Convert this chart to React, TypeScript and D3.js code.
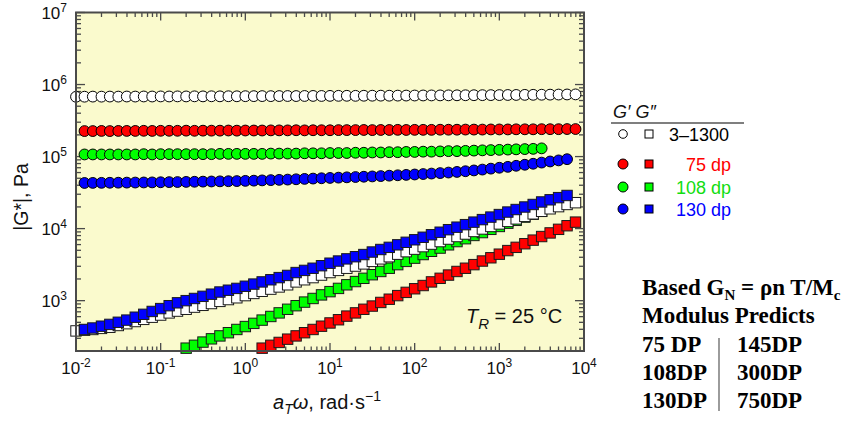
import * as d3 from "d3";

// angular frequency a_T·ω (rad/s), 10 points per decade
const omega = [
  0.01, 0.0126, 0.0158, 0.02, 0.0251, 0.0316, 0.0398, 0.0501, 0.0631, 0.0794,
  0.1, 0.126, 0.158, 0.2, 0.251, 0.316, 0.398, 0.501, 0.631, 0.794,
  1, 1.26, 1.58, 2, 2.51, 3.16, 3.98, 5.01, 6.31, 7.94,
  10, 12.6, 15.8, 20, 25.1, 31.6, 39.8, 50.1, 63.1, 79.4,
  100, 126, 158, 200, 251, 316, 398, 501, 631, 794,
  1000, 1260, 1580, 2000, 2510, 3160, 3980, 5010, 6310, 7940,
];

// G' (storage), Pa
const gp3_1300 = [
  676e3, 678e3, 680e3, 679e3, 681e3, 680e3, 682e3, 681e3, 683e3, 682e3,
  684e3, 683e3, 685e3, 684e3, 686e3, 685e3, 687e3, 686e3, 688e3, 687e3,
  689e3, 690e3, 691e3, 690e3, 692e3, 693e3, 692e3, 694e3, 695e3, 694e3,
  696e3, 697e3, 698e3, 697e3, 699e3, 700e3, 701e3, 700e3, 702e3, 703e3,
  704e3, 705e3, 706e3, 707e3, 708e3, 709e3, 710e3, 711e3, 712e3, 713e3,
  714e3, 716e3, 717e3, 719e3, 720e3, 722e3, 724e3, 726e3, 728e3, 730e3,
];
const gp75 = [
  226e3, 226e3, 227e3, 226e3, 227e3, 227e3, 227e3, 228e3, 227e3,
  228e3, 228e3, 228e3, 229e3, 228e3, 229e3, 229e3, 229e3, 230e3, 229e3,
  230e3, 230e3, 230e3, 231e3, 231e3, 231e3, 232e3, 231e3, 232e3, 232e3,
  232e3, 233e3, 233e3, 233e3, 234e3, 233e3, 234e3, 234e3, 235e3, 234e3,
  235e3, 235e3, 235e3, 236e3, 236e3, 236e3, 237e3, 237e3, 237e3, 238e3,
  238e3, 238e3, 239e3, 239e3, 239e3, 240e3, 240e3, 240e3, 241e3, 241e3,
];
const gp108 = [
  107e3, 107e3, 107e3, 107e3, 107e3, 107e3, 107e3, 108e3, 107e3,
  108e3, 108e3, 108e3, 108e3, 108e3, 108e3, 108e3, 109e3, 109e3, 109e3,
  109e3, 109e3, 109e3, 110e3, 110e3, 110e3, 110e3, 111e3, 111e3, 111e3,
  112e3, 112e3, 112e3, 113e3, 113e3, 114e3, 114e3, 115e3, 115e3, 116e3,
  116e3, 117e3, 117e3, 118e3, 119e3, 119e3, 120e3, 121e3, 122e3, 123e3,
  124e3, 125e3, 126e3, 127e3, 128e3, 130e3,
];
const gp130 = [
  43.0e3, 43.1e3, 43.2e3, 43.3e3, 43.4e3, 43.5e3, 43.6e3, 43.7e3, 43.8e3,
  44.0e3, 44.2e3, 44.3e3, 44.5e3, 44.7e3, 44.9e3, 45.1e3, 45.3e3, 45.5e3, 45.7e3,
  46.0e3, 46.3e3, 46.7e3, 47.1e3, 47.5e3, 47.9e3, 48.4e3, 49.0e3, 49.5e3, 50.0e3,
  50.5e3, 51.0e3, 51.5e3, 52.0e3, 52.5e3, 53.0e3, 53.6e3, 54.3e3, 55.0e3, 55.7e3,
  56.4e3, 57.2e3, 58.1e3, 59.0e3, 60.0e3, 61.2e3, 62.6e3, 64.2e3, 66.0e3, 68.0e3,
  70.0e3, 72.0e3, 74.5e3, 77.0e3, 79.5e3, 82.5e3, 85.5e3, 88.5e3, 92.0e3,
];

// G'' (loss), Pa
const gpp3_1300 = [
  380, 389, 398, 412, 427, 452, 479, 513, 550, 589,
  631, 676, 716, 759, 813, 861, 912, 977, 1035, 1096,
  1175, 1259, 1349, 1445, 1549, 1660, 1820, 1950, 2089, 2265,
  2455, 2630, 2818, 3020, 3236, 3508, 3802, 4074, 4416, 4786,
  5188, 5623, 6095, 6607, 7161, 7762, 8414, 9120, 9886, 10715,
  11614, 12589, 13646, 14791, 16032, 17378, 18836, 20184, 21627, 22909,
];
const gpp75 = [
  219, 240, 263, 292, 324, 359, 398, 442,
  490, 543, 610, 676, 759, 841, 944, 1047, 1175, 1303,
  1462, 1622, 1820, 2042, 2265, 2541, 2818, 3162, 3548, 3936,
  4416, 4955, 5495, 6166, 6918, 7762, 8710, 9772, 10965, 12303,
];
const gpp108 = [
  219, 240, 266, 295, 324, 359, 398,
  437, 484, 537, 603, 676, 759, 851, 955, 1072, 1202,
  1334, 1479, 1660, 1841, 2042, 2291, 2541, 2818, 3162, 3508,
  3890, 4365, 4842, 5370, 5957, 6607, 7244, 8035, 8810, 9772,
  10715, 11885, 13032, 14454, 15849, 17378,
];
const gpp130 = [
  398, 417, 442, 468, 501, 537, 589, 646, 708,
  776, 851, 933, 1000, 1072, 1148, 1230, 1318, 1396, 1479,
  1585, 1698, 1820, 1950, 2089, 2239, 2455, 2630, 2818, 3055,
  3311, 3548, 3802, 4074, 4365, 4732, 5129, 5495, 5957, 6457,
  6998, 7586, 8222, 8913, 9661, 10471, 11350, 12303, 13335, 14454,
  15668, 16982, 18408, 19953, 21627, 23442, 25119, 26915, 28840,
];

const legendLabels = ["3–1300", "75 dp", "108 dp", "130 dp"];
const legendFills = ["#ffffff", "#ff0000", "#00ff00", "#0000ff"];
const legendText = ["#000000", "#ff0000", "#11dd11", "#0000ff"];

const xDecades = [-2, -1, 0, 1, 2, 3, 4];
const yDecades = [3, 4, 5, 6, 7];

const predictLeft = ["75 DP", "108DP", "130DP"];
const predictRight = ["145DP", "300DP", "750DP"];

// start = index into omega of first point
const circles = [
  { values: gp3_1300, start: 0, fill: "#ffffff" },
  { values: gp75, start: 1, fill: "#ff0000" },
  { values: gp108, start: 1, fill: "#00ff00" },
  { values: gp130, start: 1, fill: "#0000ff" },
];
const squares = [
  { values: gpp75, start: 22, fill: "#ff0000" },
  { values: gpp108, start: 13, fill: "#00ff00" },
  { values: gpp3_1300, start: 0, fill: "#ffffff" },
  { values: gpp130, start: 1, fill: "#0000ff" },
];

const W = 851;
const H = 425;
const left = 76, right = 584, top = 12.5, bottom = 351;

export default function App() {
  const x = d3.scaleLog().domain([1e-2, 1e4]).range([left, right]);
  const y = d3.scaleLog().domain([200, 1e7]).range([bottom, top]);

  const xMinor: number[] = [];
  xDecades.slice(0, -1).forEach((d) => {
    for (let m = 2; m <= 9; m++) xMinor.push(m * Math.pow(10, d));
  });
  const yMinor: number[] = [];
  [2, 3, 4, 5, 6].forEach((d) => {
    for (let m = 2; m <= 9; m++) {
      const v = m * Math.pow(10, d);
      if (v >= 200) yMinor.push(v);
    }
  });

  const axisColor = "#4a4a4a";
  const font = "'Liberation Sans', Arial, sans-serif";
  const r = 5.4;
  const s = 10.4;

  return (
    <svg width={W} height={H} style={{ position: "absolute", left: 0, top: 0 }} fontFamily={font}>
      <rect x={0} y={0} width={W} height={H} fill="#ffffff" />
      <rect x={left} y={top} width={right - left} height={bottom - top} fill="#fafacd" />

      {/* ticks, all four sides, pointing inward */}
      <g stroke={axisColor} strokeWidth={1.3}>
        {xDecades.map((d) => {
          const px = x(Math.pow(10, d));
          return (
            <g key={"xd" + d}>
              <line x1={px} x2={px} y1={bottom} y2={bottom - 8} />
              <line x1={px} x2={px} y1={top} y2={top + 8} />
            </g>
          );
        })}
        {xMinor.map((v, i) => (
          <g key={"xm" + i}>
            <line x1={x(v)} x2={x(v)} y1={bottom} y2={bottom - 4.5} />
            <line x1={x(v)} x2={x(v)} y1={top} y2={top + 4.5} />
          </g>
        ))}
        {yDecades.map((d) => {
          const py = y(Math.pow(10, d));
          return (
            <g key={"yd" + d}>
              <line x1={left} x2={left + 9} y1={py} y2={py} />
              <line x1={right} x2={right - 9} y1={py} y2={py} />
            </g>
          );
        })}
        {yMinor.map((v, i) => (
          <g key={"ym" + i}>
            <line x1={left} x2={left + 5} y1={y(v)} y2={y(v)} />
            <line x1={right} x2={right - 5} y1={y(v)} y2={y(v)} />
          </g>
        ))}
      </g>

      {/* circles: G' */}
      {circles.map((sr, si) => (
        <g key={"c" + si} stroke="#000" strokeWidth={1}>
          {sr.values.map((v, i) => (
            <circle key={i} cx={x(omega[sr.start + i])} cy={y(v)} r={r} fill={sr.fill} />
          ))}
        </g>
      ))}
      {/* squares: G'' */}
      {squares.map((sr, si) => (
        <g key={"s" + si} stroke="#1a1a1a" strokeWidth={1}>
          {sr.values.map((v, i) => (
            <rect key={i} x={x(omega[sr.start + i]) - s / 2} y={y(v) - s / 2} width={s} height={s} fill={sr.fill} />
          ))}
        </g>
      ))}

      {/* frame */}
      <rect x={left} y={top} width={right - left} height={bottom - top} fill="none" stroke={axisColor} strokeWidth={2} />

      {/* tick labels */}
      <g fontSize={17} fill="#111">
        {xDecades.map((d) => (
          <text key={"xl" + d} x={x(Math.pow(10, d))} y={374} textAnchor="middle">
            10<tspan dy={-7} fontSize={12}>{d}</tspan>
          </text>
        ))}
        {yDecades.map((d) => (
          <text key={"yl" + d} x={67} y={y(Math.pow(10, d)) + 6} textAnchor="end">
            10<tspan dy={-7} fontSize={12}>{d}</tspan>
          </text>
        ))}
      </g>

      {/* axis titles */}
      <text transform="translate(28,197) rotate(-90)" textAnchor="middle" fontSize={19.5} fill="#111">
        |G*|, Pa
      </text>
      <text x={273} y={409} fontSize={20} fill="#111">
        <tspan fontStyle="italic">a</tspan>
        <tspan fontStyle="italic" fontSize={14} dy={5}>T</tspan>
        <tspan fontStyle="italic" dy={-5}>ω</tspan>
        <tspan>, rad·s</tspan>
        <tspan fontSize={14} dy={-8}>−1</tspan>
      </text>
      <text x={466} y={323} fontSize={20} fill="#111">
        <tspan fontStyle="italic">T</tspan>
        <tspan fontStyle="italic" fontSize={15} dy={6}>R</tspan>
        <tspan dy={-6}> = 25 °C</tspan>
      </text>

      {/* legend */}
      <text x={613} y={118} fontSize={18} fontStyle="italic" fill="#111">G′ G″</text>
      <line x1={611} x2={744} y1={123} y2={123} stroke="#555" strokeWidth={1.5} />
      {legendLabels.map((lab, i) => {
        const ry = [134, 164, 187, 209][i];
        return (
          <g key={"lg" + i}>
            <circle cx={623} cy={ry} r={i === 0 ? 4.3 : 5} fill={legendFills[i]} stroke="#000" strokeWidth={1} />
            <rect x={649 - 4} y={ry - 4} width={8} height={8} fill={legendFills[i]} stroke="#000" strokeWidth={1} />
            <text
              x={i === 0 ? 669 : 731}
              y={ry + 6.5}
              fontSize={18}
              textAnchor={i === 0 ? "start" : "end"}
              fill={legendText[i]}
            >
              {lab}
            </text>
          </g>
        );
      })}

      {/* modulus prediction note */}
      <g fontFamily="'Liberation Serif', 'Times New Roman', serif" fontWeight="bold" fontSize={23} fill="#000">
        <text x={642} y={295}>
          Based G<tspan fontSize={15} dy={5}>N</tspan>
          <tspan dy={-5}> = ρn T/M</tspan>
          <tspan fontSize={15} dy={5}>c</tspan>
        </text>
        <text x={642} y={323}>Modulus Predicts</text>
        {predictLeft.map((t, i) => (
          <text key={"pl" + i} x={642} y={352 + i * 28}>{t}</text>
        ))}
        {predictRight.map((t, i) => (
          <text key={"pr" + i} x={737} y={352 + i * 28}>{t}</text>
        ))}
      </g>
      <line x1={719} x2={719} y1={338} y2={411} stroke="#666" strokeWidth={1.3} />
    </svg>
  );
}
